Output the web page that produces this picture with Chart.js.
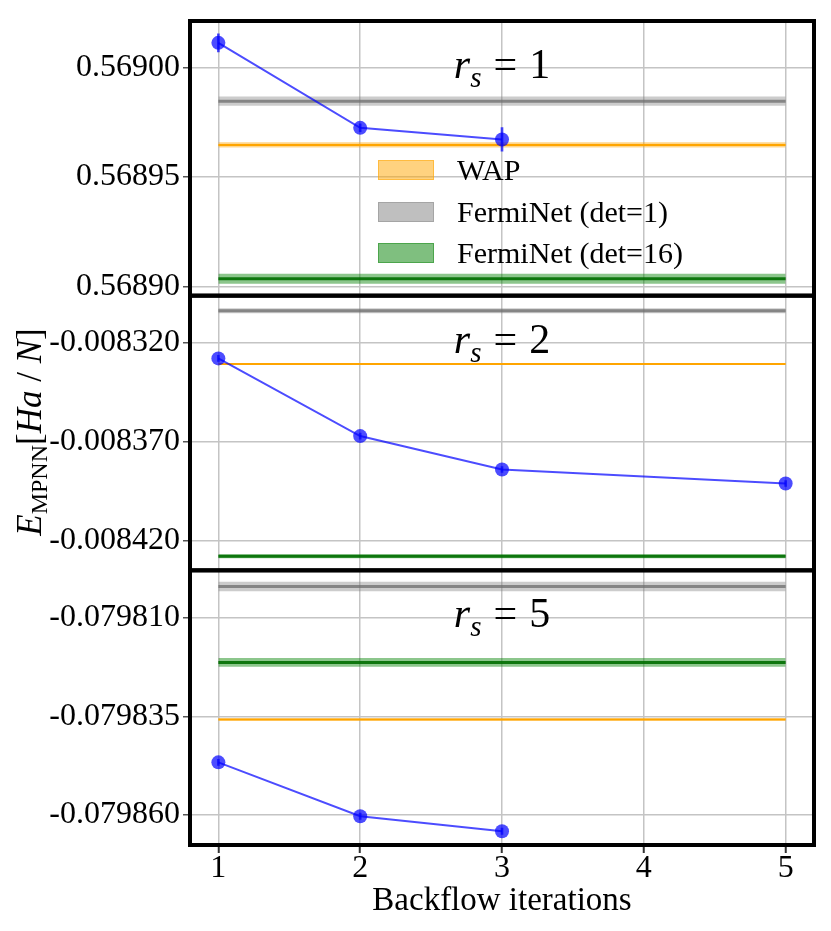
<!DOCTYPE html>
<html>
<head>
<meta charset="utf-8">
<script src="https://cdn.jsdelivr.net/npm/chart.js@4.4.1/dist/chart.umd.min.js"></script>
<style>
  body { margin: 0; background: #fff; }
  #wrap { position: relative; width: 831px; height: 931px; font-family: 'Liberation Serif', serif; color: #000; }
  .lab { position: absolute; font-size: 42px; line-height: 42px; white-space: nowrap; transform: translateX(-50%); }
  .lab sub { font-size: 29px; vertical-align: -9px; line-height: 0; }
  .eq { margin: 0 12px; }
  .leg { position: absolute; left: 378px; font-size: 30px; line-height: 30px; white-space: nowrap; }
  .sw { position: absolute; left: 0; top: 0; width: 54px; height: 18px; }
  .leg span.t { position: absolute; left: 79px; top: -5px; }
  #ylab { position: absolute; left: -120px; top: 412px; width: 300px; height: 40px; line-height: 40px;
          text-align: center; font-size: 35px; transform: rotate(-90deg); white-space: nowrap; }
  #ylab sub { font-size: 24px; font-style: normal; vertical-align: -6px; line-height: 0; }
</style>
</head>
<body>
<div id="wrap">
  <canvas id="energyChart" width="831" height="931"></canvas>
  <div id="ylab"><i>E</i><sub>MPNN</sub>[<i>Ha</i> / <i>N</i>]</div>
  <div class="lab" id="labA"><i>r</i><sub><i>s</i></sub><span class="eq">=</span>1</div>
  <div class="lab" id="labB"><i>r</i><sub><i>s</i></sub><span class="eq">=</span>2</div>
  <div class="lab" id="labC"><i>r</i><sub><i>s</i></sub><span class="eq">=</span>5</div>
  <div class="leg" style="top:160px"><div class="sw" style="background:rgba(255,165,0,0.5);border:1.5px solid rgba(255,165,0,0.5)"></div><span class="t" id="leg0"></span></div>
  <div class="leg" style="top:202px"><div class="sw" style="background:rgba(128,128,128,0.5);border:1.5px solid rgba(128,128,128,0.4)"></div><span class="t" id="leg1"></span></div>
  <div class="leg" style="top:243px"><div class="sw" style="background:rgba(0,128,0,0.5);border:1.5px solid rgba(0,128,0,0.4)"></div><span class="t" id="leg2"></span></div>
</div>
<script>
var iterTicks = [1, 2, 3, 4, 5];
var refNames = ['WAP', 'FermiNet (det=1)', 'FermiNet (det=16)'];

// r_s = 1
var rs1Iter = [1, 2, 3];
var rs1Energy = [0.5690114, 0.5689725, 0.5689672];
var rs1Err = [0.0000041, 0.0000018, 0.0000054];
var rs1Ref = [0.5689647, 0.5689847, 0.5689034];      // WAP, det=1, det=16
var rs1RefErr = [0.0000012, 0.0000021, 0.0000023];
var rs1Ticks = [0.56890, 0.56895, 0.56900];

// r_s = 2
var rs2Iter = [1, 2, 3, 5];
var rs2Energy = [-0.0083281, -0.0083672, -0.0083840, -0.0083911];
var rs2Err = [0.0000015, 0.0000015, 0.0000015, 0.0000015];
var rs2Ref = [-0.0083309, -0.0083041, -0.0084277];
var rs2RefErr = [0.0000004, 0.0000013, 0.0000010];
var rs2Ticks = [-0.008420, -0.008370, -0.008320];

// r_s = 5
var rs5Iter = [1, 2, 3];
var rs5Energy = [-0.0798467, -0.0798604, -0.0798642];
var rs5Err = [0.0000008, 0.0000008, 0.0000008];
var rs5Ref = [-0.0798358, -0.0798020, -0.0798213];
var rs5RefErr = [0.0000003, 0.0000012, 0.0000011];
var rs5Ticks = [-0.079860, -0.079835, -0.079810];

var blue = 'rgba(0,0,255,0.7)';
var refLine = ['#FFA500', 'rgba(110,110,110,0.75)', 'rgba(0,110,0,0.9)'];
var refLineWidth = [2, 3, 3];
var refFill = ['rgba(255,165,0,0.45)', 'rgba(128,128,128,0.4)', 'rgba(0,128,0,0.45)'];

refNames.forEach(function(n, i) { document.getElementById('leg' + i).textContent = n; });

function panelDatasets(axis, iters, energy, err, refs, refErr) {
    var ends = [iterTicks[0], iterTicks[iterTicks.length - 1]];
    var sets = [];
    sets.push({
        type: 'line', yAxisID: axis,
        data: iters.map(function(x, i) { return {x: x, y: energy[i]}; }),
        borderColor: blue, borderWidth: 2,
        pointRadius: 7, pointBackgroundColor: blue, pointBorderWidth: 0
    });
    // error bars
    sets.push({
        type: 'bar', yAxisID: axis, grouped: false,
        data: iters.map(function(x, i) { return {x: x, y: [energy[i] - err[i], energy[i] + err[i]]}; }),
        backgroundColor: blue, barThickness: 2, borderWidth: 0
    });
    refs.forEach(function(v, k) {
        sets.push({
            type: 'line', yAxisID: axis,
            data: ends.map(function(x) { return {x: x, y: v}; }),
            borderColor: refLine[k], borderWidth: refLineWidth[k], pointRadius: 0
        });
        sets.push({
            type: 'line', yAxisID: axis,
            data: ends.map(function(x) { return {x: x, y: v + refErr[k]}; }),
            borderWidth: 0, pointRadius: 0,
            fill: {value: v - refErr[k]}, backgroundColor: refFill[k]
        });
    });
    return sets;
}

var tickFont = {family: 'Liberation Serif', size: 32, lineHeight: 1};

function yScale(ticks, digits, min, max, weight) {
    return {
        type: 'linear', position: 'left', stack: 'energy', stackWeight: 1, weight: weight,
        min: min, max: max,
        afterBuildTicks: function(s) { s.ticks = ticks.map(function(v) { return {value: v}; }); },
        afterFit: function(s) { s.width = 190; },
        ticks: {font: tickFont, color: '#000', padding: 3,
                callback: function(v) { return Number(v).toFixed(digits); }},
        grid: {color: '#c4c4c4', lineWidth: 1.5, tickColor: '#555', tickLength: 7, tickWidth: 1.5},
        border: {display: false}
    };
}

// thick black frame round each panel
var panelFrames = {
    id: 'panelFrames',
    afterDatasetsDraw: function(chart) {
        var c = chart.ctx, a = chart.chartArea;
        c.save();
        c.strokeStyle = '#000';
        c.lineWidth = 4;
        ['yA', 'yB', 'yC'].forEach(function(id) {
            var s = chart.scales[id];
            c.strokeRect(a.left, s.top, a.right - a.left, s.bottom - s.top);
        });
        c.restore();
    }
};

var ctx = document.getElementById('energyChart').getContext('2d');
var chart = new Chart(ctx, {
    type: 'line',
    data: {
        datasets: []
            .concat(panelDatasets('yA', rs1Iter, rs1Energy, rs1Err, rs1Ref, rs1RefErr))
            .concat(panelDatasets('yB', rs2Iter, rs2Energy, rs2Err, rs2Ref, rs2RefErr))
            .concat(panelDatasets('yC', rs5Iter, rs5Energy, rs5Err, rs5Ref, rs5RefErr))
    },
    options: {
        responsive: false,
        animation: false,
        layout: {padding: {left: 0, top: 21, right: 17, bottom: 0}},
        plugins: {legend: {display: false}, tooltip: {enabled: false}},
        scales: {
            x: {
                type: 'linear', min: 0.8, max: 5.2, offset: false,
                afterBuildTicks: function(s) { s.ticks = iterTicks.map(function(v) { return {value: v}; }); },
                afterFit: function(s) { s.height = 86; },
                ticks: {font: tickFont, color: '#000', padding: 0},
                grid: {offset: false, color: '#c4c4c4', lineWidth: 1.5, tickColor: '#333', tickLength: 8, tickWidth: 2},
                border: {display: false},
                title: {display: true, text: 'Backflow iterations', color: '#000',
                        font: {family: 'Liberation Serif', size: 33, lineHeight: 1.2}, padding: {top: 0, bottom: 10}}
            },
            yA: yScale(rs1Ticks, 5, 0.5688957, 0.5690214, 3),
            yB: yScale(rs2Ticks, 6, -0.0084348, -0.0082965, 2),
            yC: yScale(rs5Ticks, 6, -0.0798677, -0.0797979, 1)
        }
    },
    plugins: [panelFrames]
});

// place panel labels over x = 3, near the top of each panel
var xMid = chart.scales.x.getPixelForValue(iterTicks[2]);
[['labA', 'yA'], ['labB', 'yB'], ['labC', 'yC']].forEach(function(p) {
    var el = document.getElementById(p[0]);
    el.style.left = xMid + 'px';
    el.style.top = (chart.scales[p[1]].top + 22) + 'px';
});
</script>
</body>
</html>
